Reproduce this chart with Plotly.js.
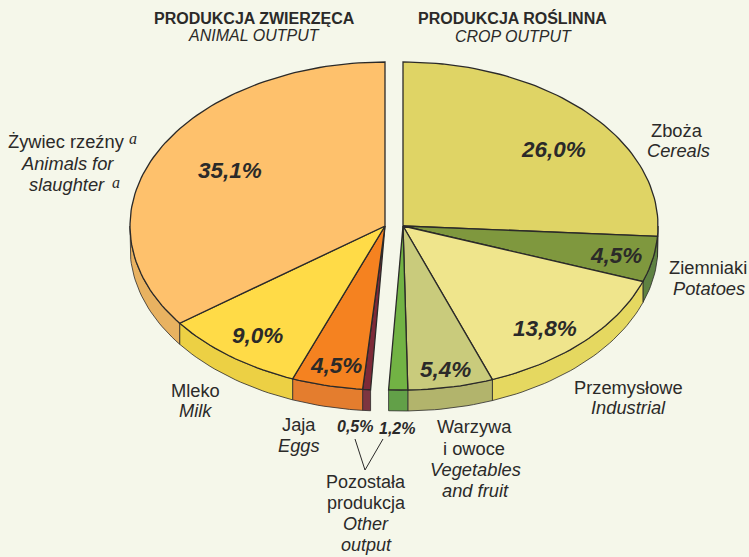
<!DOCTYPE html>
<html><head><meta charset="utf-8">
<script src="https://cdn.plot.ly/plotly-3.0.1.min.js"></script>
<style>html,body{margin:0;padding:0;background:#f5f7ea}#c{width:749px;height:557px}</style>
</head><body><div id="c"></div>
<script>
// Data: shares of output (%), clockwise from the top of the pie
const categories = ["Zboża","Ziemniaki","Przemysłowe","Warzywa i owoce","Pozostała (roślinna)","Pozostała (zwierzęca)","Jaja","Mleko","Żywiec rzeźny"];
const values = [26.0,4.5,13.8,5.4,1.2,0.5,4.5,9.0,35.1];
const valueLabels = ["26,0%","4,5%","13,8%","5,4%","1,2%","0,5%","4,5%","9,0%","35,1%"];
const topColors = ["#dfd465","#7f983e","#efe58c","#c9cb7c","#72b344","#7d2a38","#f58220","#ffdb47","#fec16c"];
const sideColors = ["#d0c558","#5f8242","#e5d860","#b2b46c","#62a048","#7d3540","#e47d2e","#ecd044","#e8b261"];
const cropSliceCount = 5;

// Geometry of the tilted, split pie
const cy = 226, rx = 255, ry = 164, depth = 21;
const cxCrop = 403, cxAnimal = 385;
const ink = "#2b2a29";

function pt(cx, deg, dy) {
  const a = deg * Math.PI / 180;
  return [cx + rx * Math.sin(a), cy - ry * Math.cos(a) + (dy || 0)];
}
function arc(cx, a0, a1, dy) {
  const n = Math.max(2, Math.ceil(Math.abs(a1 - a0) / 1.5));
  const out = [];
  for (let i = 0; i <= n; i++) out.push(pt(cx, a0 + (a1 - a0) * i / n, dy));
  return out;
}
function poly(points, fill, width) {
  return {type:"scatter", mode:"lines", x:points.map(p=>p[0]), y:points.map(p=>p[1]),
    fill:"toself", fillcolor:fill, line:{color:ink, width:width}, hoverinfo:"skip", showlegend:false};
}
const sides = [], tops = [];
let cum = 0;
values.forEach((v, i) => {
  const a0 = cum / 100 * 360; cum += v; const a1 = cum / 100 * 360;
  const cx = i < cropSliceCount ? cxCrop : cxAnimal;
  const s0 = Math.max(a0, 90), s1 = Math.min(a1, 270);
  if (s1 > s0) {
    const upper = arc(cx, s0, s1, 0);
    const lower = arc(cx, s0, s1, depth).reverse();
    sides.push(poly(upper.concat(lower, [upper[0]]), sideColors[i], 0.8));
  }
  const rim = arc(cx, a0, a1, 0);
  tops.push(poly([[cx, cy]].concat(rim, [[cx, cy]]), topColors[i], 1.3));
});
const connector = {type:"scatter", mode:"lines", x:[355,365,383], y:[439,470,439],
  line:{color:ink, width:1}, hoverinfo:"skip", showlegend:false};

const sans = "Liberation Sans, Arial, sans-serif";
function note(text, x, y, size, extra) {
  return {text:text, x:x, y:y, xref:"x", yref:"y", showarrow:false, xanchor:"center", yanchor:"middle",
    font:{family:(extra&&extra.family)||sans, size:size, color:ink}};
}
const valuePos = [[553,149],[616,255],[545,328],[445,369],[397,428],[355,426],[336,365],[257,335],[230,170]];
const annotations = valueLabels.map((t,i)=>{
  return note("<b><i>"+t+"</i></b>", valuePos[i][0], valuePos[i][1], (i===4||i===5)?16:22.5);
});
const lines = [
  ["<b>PRODUKCJA ZWIERZĘCA</b>",254,18,16],["<i>ANIMAL OUTPUT</i>",254,35,16],
  ["<b>PRODUKCJA ROŚLINNA</b>",512,18,16],["<i>CROP OUTPUT</i>",513,36,16],
  ["Zboża",677,130,18.3],["<i>Cereals</i>",678,150,18.3],
  ["Ziemniaki",708,267,18.3],["<i>Potatoes</i>",709,288,18.3],
  ["Przemysłowe",628,387,18.3],["<i>Industrial</i>",628,407,18.3],
  ["Warzywa",474,426,18.3],["i owoce",474,448,18.3],["<i>Vegetables</i>",475,469,18.3],["<i>and fruit</i>",475,490,18.3],
  ["Pozostała",366,482,18],["produkcja",366,503,18],["<i>Other</i>",366,524,18],["<i>output</i>",366,545,18],
  ["Jaja",299,424,18.3],["<i>Eggs</i>",299,445,18.3],
  ["Mleko",195,390,18.3],["<i>Milk</i>",195,410,18.3],
  ["Żywiec rzeźny",66,141,18.3],["<i>Animals for</i>",67,163,18.3],["<i>slaughter</i>",67,184,18.3]
];
lines.forEach(l=>annotations.push(note(l[0],l[1],l[2],l[3])));
annotations.push(note("<i>a</i>",133,138,16,{family:"Liberation Serif, serif"}));
annotations.push(note("<i>a</i>",116,182,16,{family:"Liberation Serif, serif"}));

Plotly.newPlot("c", sides.concat(tops,[connector]), {
  width:749, height:557, margin:{l:0,r:0,t:0,b:0},
  paper_bgcolor:"#f5f7ea", plot_bgcolor:"#f5f7ea", showlegend:false,
  xaxis:{range:[0,749], visible:false, fixedrange:true},
  yaxis:{range:[557,0], visible:false, fixedrange:true},
  annotations:annotations
}, {displayModeBar:false, staticPlot:true});
</script></body></html>
